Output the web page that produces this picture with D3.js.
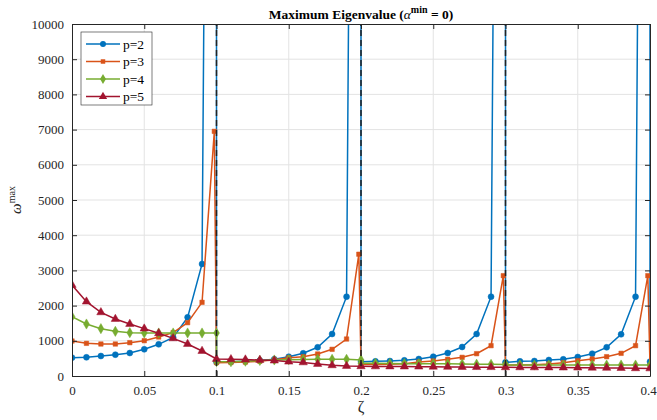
<!DOCTYPE html>
<html>
<head>
<meta charset="utf-8">
<script src="https://cdn.jsdelivr.net/npm/d3@7"></script>
<style>
    body { margin: 0; background: #fff; }
    text { font-family: "Liberation Serif", "Times New Roman", serif; }
</style>
</head>
<body>
<svg id="chart" width="657" height="420"></svg>
<script>
// zeta samples, 0 .. 0.4 step 0.01
const zeta = [0, 0.01, 0.02, 0.03, 0.04, 0.05, 0.06, 0.07, 0.08, 0.09,
    0.1, 0.11, 0.12, 0.13, 0.14, 0.15, 0.16, 0.17, 0.18, 0.19,
    0.2, 0.21, 0.22, 0.23, 0.24, 0.25, 0.26, 0.27, 0.28, 0.29,
    0.3, 0.31, 0.32, 0.33, 0.34, 0.35, 0.36, 0.37, 0.38, 0.39, 0.4];

const p2 = [521, 530, 568, 606, 653, 758, 900, 1098, 1667, 3182,
    400, 405, 418, 440, 478, 549, 645, 815, 1193, 2253,
    407, 416, 426, 445, 483, 549, 653, 824, 1193, 2253,
    388, 416, 426, 455, 474, 540, 634, 815, 1184, 2253, 407];
const p3 = [994, 928, 909, 909, 947, 1004, 1108, 1231, 1515, 2093,
    380, 385, 395, 420, 460, 520, 549, 625, 758, 1051,
    331, 330, 335, 345, 398, 426, 474, 530, 634, 862,
    312, 312, 318, 341, 379, 436, 483, 549, 644, 862, 300];
const p4 = [1686, 1477, 1345, 1269, 1231, 1222, 1222, 1222, 1222, 1222,
    410, 406, 420, 440, 455, 465, 470, 474, 474, 474,
    360, 360, 355, 350, 350, 350, 345, 340, 335, 331,
    315, 315, 312, 312, 312, 312, 312, 312, 312, 312, 310];
const p5 = [2585, 2112, 1808, 1619, 1477, 1345, 1212, 1070, 909, 710,
    483, 474, 466, 455, 437, 406, 386, 341, 303, 284,
    275, 272, 270, 268, 265, 262, 258, 255, 252, 250,
    246, 245, 243, 241, 239, 237, 234, 230, 225, 218, 215];

// left-limit points just before each jump [zeta, omega]
const p2Jumps = [[0.1, 60000], [0.2, 60000], [0.3, 60000], [0.4, 60000]];
const p3Jumps = [[0.0985, 6950], [0.1985, 3460], [0.2985, 2850], [0.3985, 2850]];
const p4Jumps = [[0.1, 1222], [0.2, 458], [0.3, 330]];
const p5Jumps = [];

const singular = [0.1, 0.2, 0.3];
const seriesNames = ['p=2', 'p=3', 'p=4', 'p=5'];
const xTicks = [0, 0.05, 0.1, 0.15, 0.2, 0.25, 0.3, 0.35, 0.4];
const xTickLabels = ['0', '0.05', '0.1', '0.15', '0.2', '0.25', '0.3', '0.35', '0.4'];
const yTicks = [0, 1000, 2000, 3000, 4000, 5000, 6000, 7000, 8000, 9000, 10000];

const colors = ['#0072BD', '#D95319', '#77AC30', '#A2142F'];
const symbols = [d3.symbolCircle, d3.symbolSquare, d3.symbolDiamond, d3.symbolTriangle];
const symbolSizes = [28, 20, 30, 30];

const margin = { top: 24, right: 7, bottom: 44, left: 72 };
const width = 657 - margin.left - margin.right;
const height = 420 - margin.top - margin.bottom;
const serif = '"Liberation Serif", "Times New Roman", serif';

const svg = d3.select('#chart');
const g = svg.append('g').attr('transform', `translate(${margin.left},${margin.top})`);

const x = d3.scaleLinear().domain([0, 0.4]).range([0, width]);
const y = d3.scaleLinear().domain([0, 10000]).range([height, 0]);

svg.append('defs').append('clipPath').attr('id', 'plot-clip')
    .append('rect').attr('width', width).attr('height', height);

// grid
g.append('g').selectAll('line').data(xTicks.slice(1, -1)).enter().append('line')
    .attr('x1', (d) => x(d)).attr('x2', (d) => x(d))
    .attr('y1', 0).attr('y2', height)
    .attr('stroke', '#e3e3e3').attr('stroke-width', 1);
g.append('g').selectAll('line').data(yTicks.slice(1, -1)).enter().append('line')
    .attr('x1', 0).attr('x2', width)
    .attr('y1', (d) => y(d)).attr('y2', (d) => y(d))
    .attr('stroke', '#e3e3e3').attr('stroke-width', 1);

function buildPoints(vals, jumps) {
    const main = zeta.map((z, i) => ({ x: z, y: vals[i], order: 1 }));
    const extra = jumps.map((j) => ({ x: j[0], y: j[1], order: 0 }));
    return main.concat(extra).sort((a, b) => (a.x - b.x) || (a.order - b.order));
}

const series = [
    buildPoints(p2, p2Jumps),
    buildPoints(p3, p3Jumps),
    buildPoints(p4, p4Jumps),
    buildPoints(p5, p5Jumps),
];

const plot = g.append('g').attr('clip-path', 'url(#plot-clip)');
const line = d3.line().x((d) => x(d.x)).y((d) => y(d.y));

series.forEach(function (pts, i) {
    const sg = plot.append('g');
    sg.append('path').datum(pts)
        .attr('d', line)
        .attr('fill', 'none')
        .attr('stroke', colors[i])
        .attr('stroke-width', 1.5);
    sg.selectAll('path.mk').data(pts.filter((d) => d.y < 10000)).enter()
        .append('path').attr('class', 'mk')
        .attr('d', d3.symbol().type(symbols[i]).size(symbolSizes[i]))
        .attr('transform', (d) => `translate(${x(d.x)},${y(d.y)})`)
        .attr('fill', colors[i])
        .attr('stroke', colors[i])
        .attr('stroke-width', 0.5);
});

// singular lines
plot.append('g').selectAll('line').data(singular).enter().append('line')
    .attr('x1', (d) => x(d)).attr('x2', (d) => x(d))
    .attr('y1', y(0)).attr('y2', y(10000))
    .attr('stroke', '#222')
    .attr('stroke-width', 1.5)
    .attr('stroke-dasharray', '6,4');

// axes (ticks inward, box)
const axisColor = '#262626';
const xAxis = g.append('g').attr('transform', `translate(0,${height})`)
    .call(d3.axisBottom(x).tickValues(xTicks).tickFormat((d, i) => xTickLabels[i])
        .tickSizeInner(-5).tickSizeOuter(0).tickPadding(10));
const xAxisTop = g.append('g')
    .call(d3.axisTop(x).tickValues(xTicks).tickFormat('').tickSizeInner(-5).tickSizeOuter(0));
const yAxis = g.append('g')
    .call(d3.axisLeft(y).tickValues(yTicks).tickFormat(d3.format('d'))
        .tickSizeInner(-5).tickSizeOuter(0).tickPadding(8));
const yAxisRight = g.append('g').attr('transform', `translate(${width},0)`)
    .call(d3.axisRight(y).tickValues(yTicks).tickFormat('').tickSizeInner(-5).tickSizeOuter(0));

[xAxis, xAxisTop, yAxis, yAxisRight].forEach(function (ax) {
    ax.attr('font-family', serif).attr('font-size', 13);
    ax.select('.domain').attr('stroke', axisColor);
    ax.selectAll('.tick line').attr('stroke', axisColor);
    ax.selectAll('.tick text').attr('fill', axisColor)
        .style('font-family', serif).style('font-size', '13px');
});
// last x label sits at the page edge; nudge it in so it isn't clipped
xAxis.selectAll('.tick text').filter((d) => d === 0.4).attr('dx', -2);

// title
const title = svg.append('text')
    .attr('x', margin.left + width / 2).attr('y', 19)
    .attr('text-anchor', 'middle')
    .attr('fill', '#000')
    .style('font-size', '13.5px')
    .style('font-weight', 'bold');
title.append('tspan').text('Maximum Eigenvalue (');
title.append('tspan').text('α').style('font-style', 'italic').style('font-weight', 'normal');
title.append('tspan').text('min').attr('dy', -6).style('font-size', '10px');
title.append('tspan').text(' = 0)').attr('dy', 6);

// axis labels
svg.append('text')
    .attr('x', margin.left + width / 2).attr('y', 412)
    .attr('text-anchor', 'middle')
    .attr('fill', axisColor)
    .style('font-size', '16px')
    .text('ζ');
const yl = svg.append('text')
    .attr('transform', `translate(21,${margin.top + height / 2}) rotate(-90)`)
    .attr('text-anchor', 'middle')
    .attr('fill', axisColor)
    .style('font-size', '15px');
yl.append('tspan').text('ω').style('font-style', 'italic');
yl.append('tspan').text('max').attr('dy', -6).style('font-size', '10px');

// legend
const legend = svg.append('g').attr('transform', 'translate(81,32)');
legend.append('rect')
    .attr('width', 71).attr('height', 73)
    .attr('fill', '#fff').attr('stroke', axisColor).attr('stroke-width', 0.6);
seriesNames.forEach(function (name, i) {
    const ly = 12 + i * 17.5;
    legend.append('line')
        .attr('x1', 5).attr('x2', 39).attr('y1', ly).attr('y2', ly)
        .attr('stroke', colors[i]).attr('stroke-width', 1.5);
    legend.append('path')
        .attr('d', d3.symbol().type(symbols[i]).size(symbolSizes[i]))
        .attr('transform', `translate(22,${ly})`)
        .attr('fill', colors[i]);
    legend.append('text')
        .attr('x', 42).attr('y', ly + 4.5)
        .attr('fill', '#000')
        .style('font-size', '13.5px')
        .text(name);
});
</script>
</body>
</html>
